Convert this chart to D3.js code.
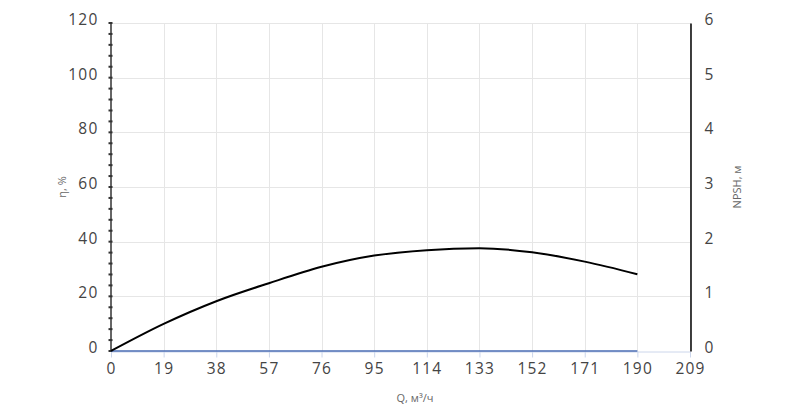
<!DOCTYPE html>
<html>
<head>
<meta charset="utf-8">
<script src="https://cdn.jsdelivr.net/npm/d3@7"></script>
<style>
  body { margin: 0; background: #fff; }
  svg { display: block; font-family: "Open Sans", sans-serif; }
  .grid line { stroke: #e6e6e6; stroke-width: 1; }
  .tick text { fill: #444; font-size: 15.5px; letter-spacing: 1.2px; font-family: "Open Sans", sans-serif; }
  .title { fill: #666; font-size: 11px; }
</style>
</head>
<body>
<svg id="chart" width="800" height="408"></svg>
<script>
// flow, m3/h
var flow = [0, 19, 38, 57, 76, 95, 114, 133, 152, 171, 190];
// efficiency, %
var efficiency = [0, 9.9, 18.2, 24.8, 30.8, 34.9, 36.9, 37.6, 36.1, 32.7, 28.1];
// npsh, m
var npsh = [0, 0, 0, 0, 0, 0, 0, 0, 0, 0, 0];

var xTicks = [0, 19, 38, 57, 76, 95, 114, 133, 152, 171, 190, 209];
var yTicks = [0, 20, 40, 60, 80, 100, 120];
var y2Ticks = [0, 1, 2, 3, 4, 5, 6];

var svg = d3.select('#chart');
var plotLeft = 111, plotRight = 690, plotTop = 23, plotBottom = 351;

var xScale = d3.scaleLinear().domain([0, 209]).range([plotLeft, plotRight]);
var yScale = d3.scaleLinear().domain([0, 120]).range([plotBottom, plotTop]);
var y2Scale = d3.scaleLinear().domain([0, 6]).range([plotBottom, plotTop]);

// grid
var grid = svg.append('g').classed('grid', true);
grid.selectAll('.h').data(yTicks.slice(1)).enter().append('line')
    .attr('x1', plotLeft).attr('x2', plotRight)
    .attr('y1', function (d) { return Math.round(yScale(d)) + 0.5; })
    .attr('y2', function (d) { return Math.round(yScale(d)) + 0.5; });
grid.selectAll('.v').data(xTicks.slice(1)).enter().append('line')
    .attr('y1', plotTop).attr('y2', plotBottom)
    .attr('x1', function (d) { return Math.round(xScale(d)) + 0.5; })
    .attr('x2', function (d) { return Math.round(xScale(d)) + 0.5; });

// x axis
var xAxis = svg.append('g')
    .attr('transform', 'translate(0,' + (plotBottom + 0.5) + ')')
    .call(d3.axisBottom(xScale).tickValues(xTicks).tickSize(6).tickSizeOuter(0).tickPadding(4));
xAxis.select('.domain').attr('stroke', '#ccd6eb');
xAxis.selectAll('.tick line').attr('stroke', '#ccd6eb');
xAxis.selectAll('.tick text').attr('dy', '0.8em');

// left axis
var yAxis = svg.append('g')
    .attr('transform', 'translate(' + (plotLeft - 0.5) + ',0)')
    .call(d3.axisLeft(yScale).tickValues(yTicks).tickSize(0).tickPadding(12));
yAxis.select('.domain').attr('stroke', '#333').attr('stroke-width', 1.5);
yAxis.selectAll('.tick text').attr('dy', '0.1em');

// minor ticks on left axis
svg.append('g').selectAll('line')
    .data(d3.range(0, 121, 4))
    .enter().append('line')
    .attr('x1', plotLeft - 2.5).attr('x2', plotLeft + 1.5)
    .attr('y1', function (d) { return yScale(d); })
    .attr('y2', function (d) { return yScale(d); })
    .attr('stroke', '#333')
    .attr('stroke-width', 2);

// right axis
var y2Axis = svg.append('g')
    .attr('transform', 'translate(' + (plotRight + 0.5) + ',0)')
    .call(d3.axisRight(y2Scale).tickValues(y2Ticks).tickFormat(d3.format('d'))
        .tickSize(0).tickPadding(14));
y2Axis.select('.domain').attr('stroke', '#000').attr('stroke-width', 1.5);
y2Axis.selectAll('.tick text').attr('dy', '0.1em');

// series
var npshLine = d3.line()
    .x(function (d, i) { return xScale(flow[i]); })
    .y(function (d) { return y2Scale(d); });
svg.append('path')
    .datum(npsh)
    .attr('d', npshLine)
    .attr('fill', 'none')
    .attr('stroke', '#4a6cb3')
    .attr('stroke-width', 1.5);

var effLine = d3.line()
    .x(function (d, i) { return xScale(flow[i]); })
    .y(function (d) { return yScale(d); })
    .curve(d3.curveMonotoneX);
svg.append('path')
    .datum(efficiency)
    .attr('d', effLine)
    .attr('fill', 'none')
    .attr('stroke', '#000')
    .attr('stroke-width', 2);

// titles
svg.append('text').classed('title', true)
    .attr('x', 415).attr('y', 402)
    .attr('text-anchor', 'middle')
    .text('Q, м³/ч');
svg.append('text').classed('title', true)
    .attr('transform', 'translate(66,187) rotate(-90)')
    .attr('text-anchor', 'middle')
    .text('η, %');
svg.append('text').classed('title', true)
    .attr('transform', 'translate(741,187) rotate(-90)')
    .attr('text-anchor', 'middle')
    .text('NPSH, м');
</script>
</body>
</html>
